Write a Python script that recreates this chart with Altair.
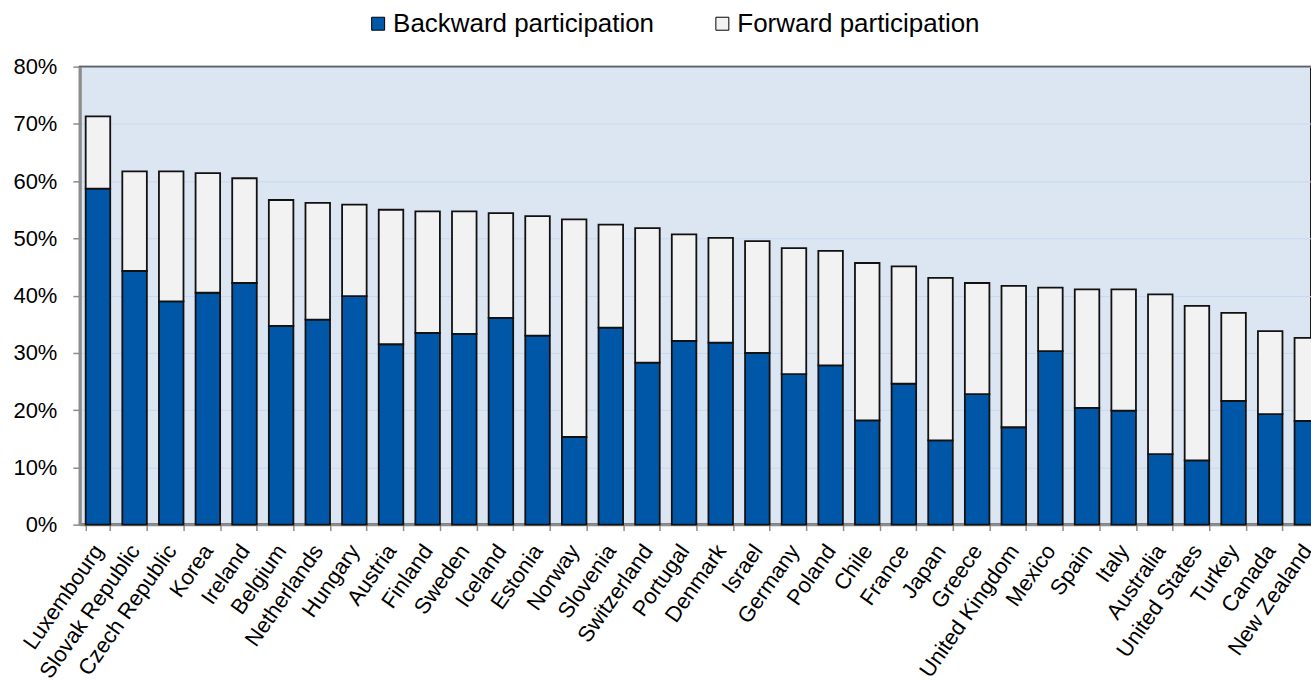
import altair as alt
import pandas as pd

# Participation in global value chains, % of gross exports
countries = [
    "Luxembourg", "Slovak Republic", "Czech Republic", "Korea", "Ireland",
    "Belgium", "Netherlands", "Hungary", "Austria", "Finland", "Sweden",
    "Iceland", "Estonia", "Norway", "Slovenia", "Switzerland", "Portugal",
    "Denmark", "Israel", "Germany", "Poland", "Chile", "France", "Japan",
    "Greece", "United Kingdom", "Mexico", "Spain", "Italy", "Australia",
    "United States", "Turkey", "Canada", "New Zealand",
]
backward = [
    58.7, 44.3, 39.0, 40.5, 42.2, 34.7, 35.8, 39.9, 31.5, 33.5, 33.3,
    36.1, 33.0, 15.3, 34.4, 28.3, 32.1, 31.8, 30.0, 26.3, 27.8, 18.2,
    24.6, 14.7, 22.8, 17.0, 30.3, 20.4, 19.9, 12.3, 11.2, 21.6, 19.3, 18.1,
]
forward = [
    12.6, 17.4, 22.7, 20.9, 18.3, 22.0, 20.4, 16.0, 23.5, 21.2, 21.4,
    18.3, 20.9, 38.0, 18.0, 23.5, 18.6, 18.3, 19.5, 22.0, 20.0, 27.5,
    20.5, 28.4, 19.4, 24.7, 11.1, 20.7, 21.2, 27.9, 27.0, 15.4, 14.5, 14.5,
]
series = ["Backward participation", "Forward participation"]
colors = ["#0057A8", "#F2F2F2"]

rows = []
for c, b, f in zip(countries, backward, forward):
    rows.append({"country": c, "series": series[0], "value": b, "ord": 0})
    rows.append({"country": c, "series": series[1], "value": f, "ord": 1})
df = pd.DataFrame(rows)

FONT = "Liberation Sans"

chart = (
    alt.Chart(df)
    .mark_bar(stroke="#111111", strokeWidth=1.8)
    .encode(
        x=alt.X(
            "country:N",
            sort=countries,
            title=None,
            # the category band runs past the right edge of the page
            scale=alt.Scale(range=[0, 1248], paddingInner=0.33, paddingOuter=0.16),
            axis=alt.Axis(
                tickBand="extent",
                labelAngle=-55,
                labelAlign="right",
                labelBaseline="middle",
                labelFontSize=22,
                labelFont=FONT,
                labelColor="#000000",
                labelPadding=16,
                tickSize=6,
                tickColor="#8C8C8C",
                tickWidth=1.5,
                domainColor="#8C8C8C",
                domainWidth=2.5,
                grid=False,
                labelOverlap=False,
                labelLimit=0,
            ),
        ),
        y=alt.Y(
            "value:Q",
            stack="zero",
            title=None,
            scale=alt.Scale(domain=[0, 80], nice=False),
            axis=alt.Axis(
                values=[0, 10, 20, 30, 40, 50, 60, 70, 80],
                labelExpr="datum.value + '%'",
                labelFontSize=22,
                labelFont=FONT,
                labelColor="#000000",
                labelPadding=16,
                tickSize=7,
                tickColor="#8C8C8C",
                tickWidth=1.5,
                domainColor="#8C8C8C",
                domainWidth=3,
                grid=True,
                gridColor="#C6D9F1",
                gridWidth=1,
            ),
        ),
        color=alt.Color(
            "series:N",
            scale=alt.Scale(domain=series, range=colors),
            legend=alt.Legend(
                title=None,
                orient="none",
                direction="horizontal",
                legendX=286,
                legendY=-56,
                symbolType="square",
                symbolSize=169,
                symbolStrokeColor="#000000",
                symbolStrokeWidth=1,
                symbolOpacity=1,
                labelFontSize=26,
                labelFont=FONT,
                labelColor="#000000",
                labelOffset=2,
                labelLimit=0,
                columnPadding=55,
            ),
        ),
        order=alt.Order("ord:Q", sort="ascending"),
    )
    .properties(
        width=1234,
        height=459,
        background="#FFFFFF",
        autosize=alt.AutoSizeParams(type="none"),
        padding={"left": 80, "top": 66, "right": 0, "bottom": 159},
    )
    .configure_view(fill="#DCE6F2", stroke="#1A1A1A", strokeWidth=2)
)

chart.save("out.html", embed_options={"renderer": "svg", "actions": False})
